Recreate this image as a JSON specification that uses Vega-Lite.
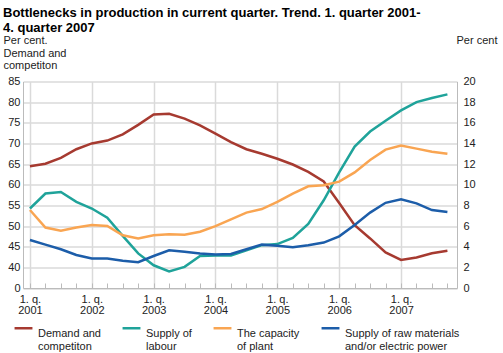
{
  "$schema": "https://vega.github.io/schema/vega-lite/v6.json",
  "autosize": "none",
  "padding": {"left": 23, "top": 81.5, "right": 46, "bottom": 65},
  "width": 434,
  "height": 206.5,
  "title": {
    "text": ["Bottlenecks in production in current quarter. Trend. 1. quarter 2001-", "4. quarter 2007"],
    "font": "Liberation Sans",
    "fontSize": 13,
    "fontWeight": "bold",
    "color": "#000000",
    "anchor": "start",
    "lineHeight": 15,
    "offset": 0,
    "frame": "bounds"
  },
  "config": {
    "view": {"stroke": null},
    "font": "Liberation Sans",
    "axis": {
      "labelFont": "Liberation Sans",
      "labelFontSize": 11,
      "labelColor": "#222222",
      "titleFont": "Liberation Sans",
      "titleFontSize": 11,
      "titleFontWeight": "normal",
      "titleColor": "#222222",
      "domainColor": "#bbbbbb",
      "tickColor": "#bbbbbb",
      "gridColor": "#dadada",
      "gridWidth": 1.5
    },
    "legend": {
      "labelFont": "Liberation Sans",
      "labelFontSize": 11,
      "labelColor": "#222222"
    }
  },
  "data": {
    "values": [
      {"q": 0, "series": "Demand and competiton", "value": 64.5},
      {"q": 1, "series": "Demand and competiton", "value": 65.1},
      {"q": 2, "series": "Demand and competiton", "value": 66.5},
      {"q": 3, "series": "Demand and competiton", "value": 68.6},
      {"q": 4, "series": "Demand and competiton", "value": 70.0},
      {"q": 5, "series": "Demand and competiton", "value": 70.7},
      {"q": 6, "series": "Demand and competiton", "value": 72.2},
      {"q": 7, "series": "Demand and competiton", "value": 74.5},
      {"q": 8, "series": "Demand and competiton", "value": 77.0},
      {"q": 9, "series": "Demand and competiton", "value": 77.2},
      {"q": 10, "series": "Demand and competiton", "value": 76.0},
      {"q": 11, "series": "Demand and competiton", "value": 74.4},
      {"q": 12, "series": "Demand and competiton", "value": 72.4},
      {"q": 13, "series": "Demand and competiton", "value": 70.3},
      {"q": 14, "series": "Demand and competiton", "value": 68.6},
      {"q": 15, "series": "Demand and competiton", "value": 67.5},
      {"q": 16, "series": "Demand and competiton", "value": 66.3},
      {"q": 17, "series": "Demand and competiton", "value": 64.9},
      {"q": 18, "series": "Demand and competiton", "value": 63.1},
      {"q": 19, "series": "Demand and competiton", "value": 60.8},
      {"q": 20, "series": "Demand and competiton", "value": 55.6},
      {"q": 21, "series": "Demand and competiton", "value": 50.2},
      {"q": 22, "series": "Demand and competiton", "value": 47.0},
      {"q": 23, "series": "Demand and competiton", "value": 43.6},
      {"q": 24, "series": "Demand and competiton", "value": 41.8},
      {"q": 25, "series": "Demand and competiton", "value": 42.4},
      {"q": 26, "series": "Demand and competiton", "value": 43.4},
      {"q": 27, "series": "Demand and competiton", "value": 44.0},
      {"q": 0, "series": "Supply of labour", "value": 7.7},
      {"q": 1, "series": "Supply of labour", "value": 9.15},
      {"q": 2, "series": "Supply of labour", "value": 9.3},
      {"q": 3, "series": "Supply of labour", "value": 8.35},
      {"q": 4, "series": "Supply of labour", "value": 7.7},
      {"q": 5, "series": "Supply of labour", "value": 6.8},
      {"q": 6, "series": "Supply of labour", "value": 5.05},
      {"q": 7, "series": "Supply of labour", "value": 3.35},
      {"q": 8, "series": "Supply of labour", "value": 2.2},
      {"q": 9, "series": "Supply of labour", "value": 1.6},
      {"q": 10, "series": "Supply of labour", "value": 2.05},
      {"q": 11, "series": "Supply of labour", "value": 3.1},
      {"q": 12, "series": "Supply of labour", "value": 3.15},
      {"q": 13, "series": "Supply of labour", "value": 3.15},
      {"q": 14, "series": "Supply of labour", "value": 3.65},
      {"q": 15, "series": "Supply of labour", "value": 4.15},
      {"q": 16, "series": "Supply of labour", "value": 4.25},
      {"q": 17, "series": "Supply of labour", "value": 4.85},
      {"q": 18, "series": "Supply of labour", "value": 6.2},
      {"q": 19, "series": "Supply of labour", "value": 8.5},
      {"q": 20, "series": "Supply of labour", "value": 11.2},
      {"q": 21, "series": "Supply of labour", "value": 13.7},
      {"q": 22, "series": "Supply of labour", "value": 15.15},
      {"q": 23, "series": "Supply of labour", "value": 16.2},
      {"q": 24, "series": "Supply of labour", "value": 17.2},
      {"q": 25, "series": "Supply of labour", "value": 18.0},
      {"q": 26, "series": "Supply of labour", "value": 18.4},
      {"q": 27, "series": "Supply of labour", "value": 18.75},
      {"q": 0, "series": "The capacity of plant", "value": 7.55},
      {"q": 1, "series": "The capacity of plant", "value": 5.85},
      {"q": 2, "series": "The capacity of plant", "value": 5.55},
      {"q": 3, "series": "The capacity of plant", "value": 5.85},
      {"q": 4, "series": "The capacity of plant", "value": 6.1},
      {"q": 5, "series": "The capacity of plant", "value": 6.0},
      {"q": 6, "series": "The capacity of plant", "value": 5.1},
      {"q": 7, "series": "The capacity of plant", "value": 4.8},
      {"q": 8, "series": "The capacity of plant", "value": 5.1},
      {"q": 9, "series": "The capacity of plant", "value": 5.2},
      {"q": 10, "series": "The capacity of plant", "value": 5.15},
      {"q": 11, "series": "The capacity of plant", "value": 5.45},
      {"q": 12, "series": "The capacity of plant", "value": 6.0},
      {"q": 13, "series": "The capacity of plant", "value": 6.65},
      {"q": 14, "series": "The capacity of plant", "value": 7.3},
      {"q": 15, "series": "The capacity of plant", "value": 7.65},
      {"q": 16, "series": "The capacity of plant", "value": 8.35},
      {"q": 17, "series": "The capacity of plant", "value": 9.15},
      {"q": 18, "series": "The capacity of plant", "value": 9.85},
      {"q": 19, "series": "The capacity of plant", "value": 9.95},
      {"q": 20, "series": "The capacity of plant", "value": 10.3},
      {"q": 21, "series": "The capacity of plant", "value": 11.2},
      {"q": 22, "series": "The capacity of plant", "value": 12.4},
      {"q": 23, "series": "The capacity of plant", "value": 13.4},
      {"q": 24, "series": "The capacity of plant", "value": 13.8},
      {"q": 25, "series": "The capacity of plant", "value": 13.5},
      {"q": 26, "series": "The capacity of plant", "value": 13.2},
      {"q": 27, "series": "The capacity of plant", "value": 13.0},
      {"q": 0, "series": "Supply of raw materials and/or electric power", "value": 4.65},
      {"q": 1, "series": "Supply of raw materials and/or electric power", "value": 4.2},
      {"q": 2, "series": "Supply of raw materials and/or electric power", "value": 3.75},
      {"q": 3, "series": "Supply of raw materials and/or electric power", "value": 3.2},
      {"q": 4, "series": "Supply of raw materials and/or electric power", "value": 2.85},
      {"q": 5, "series": "Supply of raw materials and/or electric power", "value": 2.85},
      {"q": 6, "series": "Supply of raw materials and/or electric power", "value": 2.65},
      {"q": 7, "series": "Supply of raw materials and/or electric power", "value": 2.5},
      {"q": 8, "series": "Supply of raw materials and/or electric power", "value": 3.1},
      {"q": 9, "series": "Supply of raw materials and/or electric power", "value": 3.65},
      {"q": 10, "series": "Supply of raw materials and/or electric power", "value": 3.5},
      {"q": 11, "series": "Supply of raw materials and/or electric power", "value": 3.35},
      {"q": 12, "series": "Supply of raw materials and/or electric power", "value": 3.25},
      {"q": 13, "series": "Supply of raw materials and/or electric power", "value": 3.3},
      {"q": 14, "series": "Supply of raw materials and/or electric power", "value": 3.75},
      {"q": 15, "series": "Supply of raw materials and/or electric power", "value": 4.2},
      {"q": 16, "series": "Supply of raw materials and/or electric power", "value": 4.1},
      {"q": 17, "series": "Supply of raw materials and/or electric power", "value": 3.95},
      {"q": 18, "series": "Supply of raw materials and/or electric power", "value": 4.15},
      {"q": 19, "series": "Supply of raw materials and/or electric power", "value": 4.4},
      {"q": 20, "series": "Supply of raw materials and/or electric power", "value": 5.0},
      {"q": 21, "series": "Supply of raw materials and/or electric power", "value": 6.1},
      {"q": 22, "series": "Supply of raw materials and/or electric power", "value": 7.3},
      {"q": 23, "series": "Supply of raw materials and/or electric power", "value": 8.25},
      {"q": 24, "series": "Supply of raw materials and/or electric power", "value": 8.6},
      {"q": 25, "series": "Supply of raw materials and/or electric power", "value": 8.2},
      {"q": 26, "series": "Supply of raw materials and/or electric power", "value": 7.55},
      {"q": 27, "series": "Supply of raw materials and/or electric power", "value": 7.35}
    ]
  },
  "encoding": {
    "x": {
      "field": "q",
      "type": "quantitative",
      "scale": {"domain": [-0.45, 27.62], "nice": false, "zero": false},
      "axis": {
        "title": null,
        "values": [0,1,2,3,4,5,6,7,8,9,10,11,12,13,14,15,16,17,18,19,20,21,22,23,24,25,26,27],
        "labelExpr": "datum.value % 4 == 0 ? ['1. q.', '' + (2001 + datum.value / 4)] : ''",
        "labelOverlap": false,
        "labelFlush": false,
        "labelBaseline": "top",
        "labelLineHeight": 11.5,
        "labelPadding": 10,
        "tickSize": -5,
        "grid": true,
        "gridColor": {"condition": {"test": "datum.value % 4 == 0", "value": "#dadada"}, "value": "transparent"}
      }
    },
    "color": {
      "field": "series",
      "type": "nominal",
      "scale": {
        "domain": ["Demand and competiton", "Supply of labour", "The capacity of plant", "Supply of raw materials and/or electric power"],
        "range": ["#a63a30", "#1fa39a", "#f9a552", "#1c5da9"]
      },
      "legend": {
        "title": null,
        "orient": "none",
        "legendX": -10,
        "legendY": 236,
        "direction": "horizontal",
        "columns": 4,
        "columnPadding": 16,
        "symbolType": "stroke",
        "symbolStrokeWidth": 2.5,
        "symbolSize": 320,
        "labelOffset": 4,
        "labelBaseline": "top",
        "labelLimit": 200,
        "labelExpr": "datum.label == 'Demand and competiton' ? ['Demand and', 'competiton'] : datum.label == 'Supply of labour' ? ['Supply of', 'labour'] : datum.label == 'The capacity of plant' ? ['The capacity', 'of plant'] : ['Supply of raw materials', 'and/or electric power']"
      }
    }
  },
  "layer": [
    {
      "transform": [{"filter": "datum.series == 'Demand and competiton'"}],
      "mark": {"type": "line", "strokeWidth": 2.5},
      "encoding": {
        "y": {
          "field": "value",
          "type": "quantitative",
          "scale": {"domain": [35, 85], "nice": false, "zero": false},
          "axis": {
            "orient": "left",
            "values": [35, 40, 45, 50, 55, 60, 65, 70, 75, 80, 85],
            "labelExpr": "datum.value == 35 ? '0' : datum.label",
            "grid": false,
            "ticks": false,
            "labelPadding": 3,
            "title": ["Per cent.", "Demand and", "competiton"],
            "titleAngle": 0,
            "titleAlign": "left",
            "titleBaseline": "top",
            "titleLineHeight": 12.5,
            "titleX": -20,
            "titleY": -47
          }
        }
      }
    },
    {
      "transform": [{"filter": "datum.series != 'Demand and competiton'"}],
      "mark": {"type": "line", "strokeWidth": 2.5},
      "encoding": {
        "y": {
          "field": "value",
          "type": "quantitative",
          "scale": {"domain": [0, 20], "nice": false},
          "axis": {
            "orient": "right",
            "values": [0, 2, 4, 6, 8, 10, 12, 14, 16, 18, 20],
            "grid": true,
            "ticks": false,
            "labelPadding": 6,
            "title": "Per cent",
            "titleAngle": 0,
            "titleAlign": "right",
            "titleBaseline": "top",
            "titleX": 40,
            "titleY": -47
          }
        }
      }
    }
  ],
  "resolve": {"scale": {"y": "independent"}}
}
